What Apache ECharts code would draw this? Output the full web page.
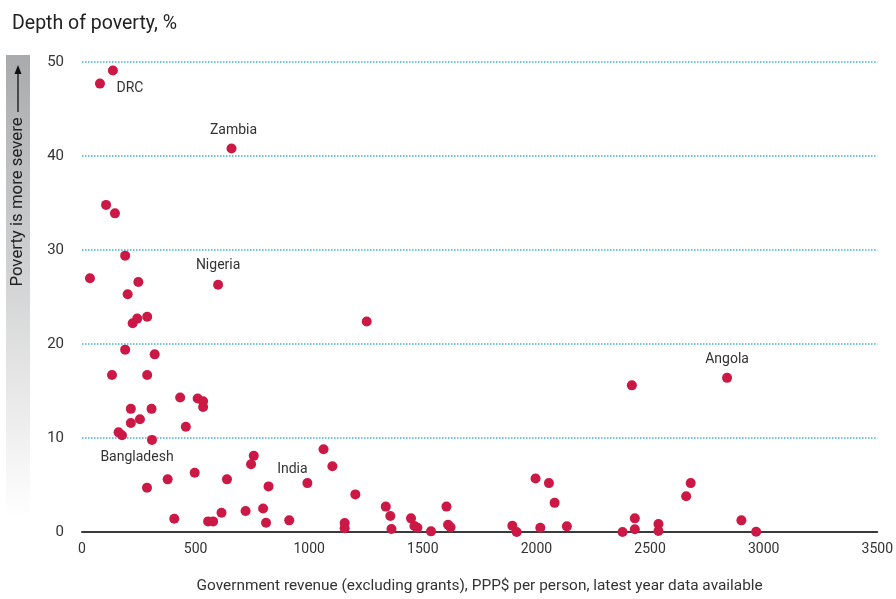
<!DOCTYPE html>
<html>
<head>
<meta charset="utf-8">
<script src="https://cdn.jsdelivr.net/npm/echarts@6/dist/echarts.min.js"></script>
<style>
html,body{margin:0;padding:0;background:#fff;}
#chart{width:896px;height:599px;}
</style>
</head>
<body>
<div id="chart"></div>
<script>
// Labelled countries are the first entries of the arrays below
const labelledCountries = ['DRC', 'Zambia', 'Nigeria', 'Bangladesh', 'India', 'Angola'];

// Government revenue (excluding grants), PPP$ per person
const revenue = [
  79, 658, 599, 176, 992, 2839,
  136, 106, 145, 190, 35, 248, 201, 223, 243, 287, 1253, 190, 320, 132, 287,
  432, 509, 533, 533, 215, 306, 255, 215, 457, 161, 308, 1063, 756, 744, 1102, 496,
  286, 377, 638, 821, 406, 555, 577, 614, 720, 797, 810, 912,
  1203, 1156, 1156, 1337, 1357, 1362, 1448, 1463, 1476, 1536, 1604, 1611, 1622,
  1894, 1913, 1996, 2055, 2080, 2017, 2134, 2379, 2433, 2433, 2537, 2537, 2659, 2679,
  2420, 2902, 2967
];

// Depth of poverty, %
const depth = [
  47.7, 40.8, 26.3, 10.3, 5.2, 16.4,
  49.1, 34.8, 33.9, 29.4, 27.0, 26.6, 25.3, 22.2, 22.7, 22.9, 22.4, 19.4, 18.9, 16.7, 16.7,
  14.3, 14.2, 13.9, 13.3, 13.1, 13.1, 12.0, 11.6, 11.2, 10.6, 9.8, 8.8, 8.1, 7.2, 7.0, 6.3,
  4.7, 5.6, 5.6, 4.85, 1.41, 1.13, 1.13, 2.05, 2.23, 2.5, 0.99, 1.24,
  4.0, 0.96, 0.39, 2.7, 1.7, 0.32, 1.45, 0.64, 0.46, 0.07, 2.7, 0.77, 0.5,
  0.67, 0.0, 5.7, 5.2, 3.1, 0.46, 0.6, 0.0, 1.45, 0.3, 0.85, 0.1, 3.8, 5.2,
  15.6, 1.24, 0.03
];

const xTicks = { min: 0, max: 3500, interval: 500 };
const yTicks = { min: 0, max: 50, interval: 10 };

const labelOffsets = {
  'DRC': [30, 5],
  'Zambia': [2, -18],
  'Nigeria': [0, -19],
  'Bangladesh': [15, 22],
  'India': [-15, -14],
  'Angola': [0, -18]
};

const FONT = 'Roboto, "Liberation Sans", sans-serif';

const data = revenue.map((x, i) => {
  const item = { value: [x, depth[i]] };
  const name = labelledCountries[i];
  if (name) {
    item.name = name;
    item.label = {
      show: true,
      position: 'inside',
      offset: labelOffsets[name],
      formatter: name,
      color: '#333',
      fontSize: 14,
      fontFamily: FONT
    };
  }
  return item;
});

const chart = echarts.init(document.getElementById('chart'), null, { renderer: 'canvas' });

chart.setOption({
  animation: false,
  backgroundColor: '#fff',
  title: {
    text: 'Depth of poverty, %',
    left: 7,
    top: 9,
    textStyle: { fontSize: 19.5, fontWeight: 'normal', color: '#222', fontFamily: FONT }
  },
  grid: { left: 82, right: 18, top: 62, bottom: 65, containLabel: false },
  xAxis: {
    type: 'value',
    min: xTicks.min,
    max: xTicks.max,
    interval: xTicks.interval,
    name: 'Government revenue (excluding grants), PPP$ per person, latest year data available',
    nameLocation: 'middle',
    nameGap: 47,
    nameTextStyle: { fontSize: 15.4, color: '#333', fontFamily: FONT },
    axisLine: { show: true, onZero: false, lineStyle: { color: '#3a3a3a', width: 2 } },
    axisTick: { show: false },
    axisLabel: { fontSize: 14, color: '#333', margin: 10, fontFamily: FONT, formatter: v => String(v) },
    splitLine: { show: false }
  },
  yAxis: {
    type: 'value',
    min: yTicks.min,
    max: yTicks.max,
    interval: yTicks.interval,
    axisLine: { show: false },
    axisTick: { show: false },
    axisLabel: { fontSize: 15, color: '#333', margin: 18, fontFamily: FONT },
    splitLine: { show: true, lineStyle: { type: 'dotted', color: '#3fb0d6', width: 1.5 } }
  },
  graphic: [
    {
      type: 'rect',
      shape: { x: 6, y: 55, width: 24, height: 462 },
      style: {
        fill: new echarts.graphic.LinearGradient(0, 0, 0, 1, [
          { offset: 0, color: '#a9aaac' },
          { offset: 1, color: '#ffffff' }
        ])
      },
      z: 0
    },
    {
      type: 'line',
      shape: { x1: 18, y1: 112, x2: 18, y2: 72 },
      style: { stroke: '#111', lineWidth: 1.3 }
    },
    {
      type: 'polygon',
      shape: { points: [[18, 65], [14.5, 74], [21.5, 74]] },
      style: { fill: '#111' }
    },
    {
      type: 'text',
      x: 18,
      y: 202,
      rotation: Math.PI / 2,
      style: {
        text: 'Poverty is more severe',
        fontSize: 16.8,
        fill: '#222',
        align: 'center',
        verticalAlign: 'middle',
        fontFamily: FONT
      }
    }
  ],
  series: [
    {
      type: 'scatter',
      data: data,
      symbol: 'circle',
      symbolSize: 10,
      itemStyle: { color: '#cc1845', opacity: 1 },
      z: 5
    }
  ]
});
</script>
</body>
</html>
